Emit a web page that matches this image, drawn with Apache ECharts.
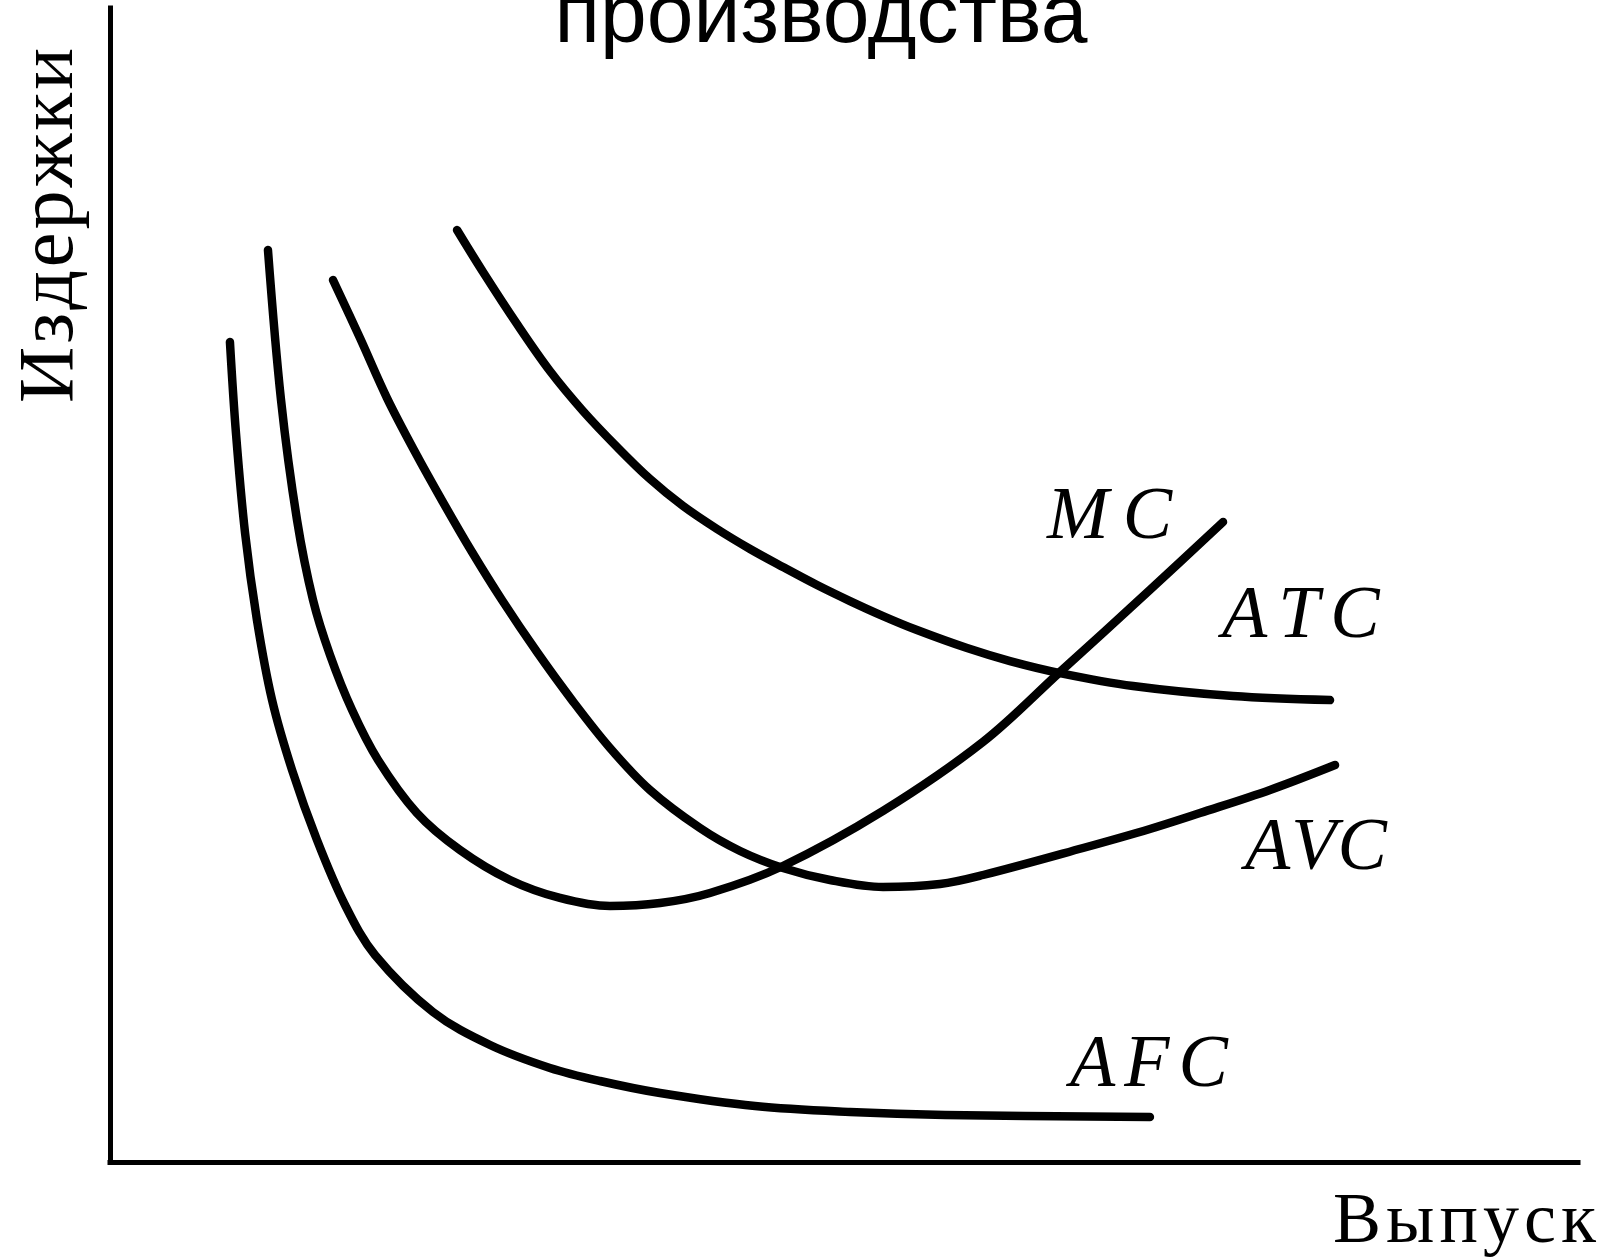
<!DOCTYPE html>
<html>
<head>
<meta charset="utf-8">
<script src="https://cdn.jsdelivr.net/npm/echarts@6/dist/echarts.min.js"></script>
<style>
html,body{margin:0;padding:0;background:#ffffff;}
#chart{width:1610px;height:1259px;}
</style>
</head>
<body>
<div id="chart"></div>
<script>
// ---- texts ----
const TITLE = 'производства';
const Y_NAME = 'Издержки';
const X_NAME = 'Выпуск';
const CURVE_NAMES = ['MC', 'ATC', 'AVC', 'AFC'];

// ---- curve values (output, cost) on 0..100 scales ----
const AFC = [
  [8.17, 71.06], [8.58, 63.17], [9.20, 54.51], [10.01, 46.97], [11.04, 40.03],
  [12.40, 33.97], [14.10, 27.90], [16.01, 22.27], [18.05, 17.94], [22.00, 13.00],
  [25.89, 10.14], [29.97, 8.15], [33.38, 7.02], [37.47, 5.98], [43.94, 4.85],
  [50.41, 4.33], [56.88, 4.07], [70.84, 3.90]
];
const MC = [
  [10.76, 79.03], [11.65, 66.03], [12.74, 55.63], [13.83, 48.70], [14.99, 43.93],
  [16.49, 39.17], [18.26, 34.84], [20.91, 30.24], [23.84, 27.04], [27.25, 24.44],
  [30.65, 22.88], [34.06, 22.18], [37.47, 22.44], [40.87, 23.31], [45.84, 25.65],
  [52.66, 30.42], [59.47, 36.40], [64.71, 42.46], [70.84, 49.57], [75.82, 55.46]
];
const AVC = [
  [15.19, 76.43], [17.03, 71.40], [18.87, 66.20], [20.78, 61.53], [22.68, 57.19],
  [24.66, 52.86], [26.70, 48.70], [29.09, 44.19], [31.47, 40.03], [34.06, 35.88],
  [36.78, 32.24], [40.19, 28.94], [42.92, 26.95], [45.84, 25.48], [49.05, 24.44],
  [52.66, 23.83], [56.54, 24.09], [59.47, 24.87], [66.28, 27.21], [70.84, 28.86],
  [74.25, 30.24], [79.02, 32.24], [83.45, 34.40]
];
const ATC = [
  [23.64, 80.76], [25.41, 77.12], [27.72, 72.62], [29.97, 68.54], [32.22, 65.08],
  [34.54, 61.96], [36.78, 59.19], [39.03, 56.85], [41.35, 54.85], [43.60, 53.12],
  [45.84, 51.56], [48.16, 50.00], [50.41, 48.61], [52.66, 47.31], [54.97, 46.10],
  [58.38, 44.54], [61.31, 43.41], [64.71, 42.37], [69.69, 41.25], [76.50, 40.38],
  [83.11, 40.03]
];

const SERIES_DATA = { MC: MC, ATC: ATC, AVC: AVC, AFC: AFC };

const SERIF = '"Liberation Serif", "Times New Roman", serif';
const SANS = 'Arial, "Liberation Sans", sans-serif';

function spaced(str, gap, font) {
  const rich = { s: Object.assign({ padding: [0, gap, 0, 0] }, font) };
  return { text: str.split('').map(function (ch) { return '{s|' + ch + '}'; }).join(''), rich: rich };
}

function spacedText(str, x, y, gap, font, align, rotation) {
  const sp = spaced(str, gap, font);
  return {
    type: 'text', x: x, y: y, rotation: rotation || 0, silent: true,
    style: Object.assign({ text: sp.text, rich: sp.rich, align: align, verticalAlign: 'middle' }, font)
  };
}

const LABEL_FONT = { fontFamily: SERIF, fontSize: 74, fontStyle: 'italic', fill: '#000' };
const AXIS_FONT_X = { fontFamily: SERIF, fontSize: 72, fill: '#000' };
const AXIS_FONT_Y = { fontFamily: SERIF, fontSize: 78, fill: '#000' };

const chart = echarts.init(document.getElementById('chart'), null, { renderer: 'canvas' });

const option = {
  backgroundColor: '#ffffff',
  animation: false,
  grid: { left: 110, right: 32, top: 8, bottom: 97, containLabel: false },
  xAxis: {
    type: 'value', min: 0, max: 100,
    axisLine: { show: true, onZero: false, lineStyle: { color: '#000', width: 5, cap: 'square' } },
    axisTick: { show: false }, axisLabel: { show: false }, splitLine: { show: false }
  },
  yAxis: {
    type: 'value', min: 0, max: 100,
    axisLine: { show: true, onZero: false, lineStyle: { color: '#000', width: 5, cap: 'square' } },
    axisTick: { show: false }, axisLabel: { show: false }, splitLine: { show: false }
  },
  series: CURVE_NAMES.map(function (name) {
    return {
      name: name,
      type: 'line',
      data: SERIES_DATA[name],
      showSymbol: false,
      symbol: 'none',
      smooth: 0.35,
      lineStyle: { color: '#000', width: 8.5, cap: 'round', join: 'round' },
      silent: true
    };
  }),
  graphic: [
    {
      type: 'text', x: 821, y: 19, silent: true,
      style: { text: TITLE, fontFamily: SANS, fontSize: 84, fill: '#000', align: 'center', verticalAlign: 'middle' }
    },
    spacedText(Y_NAME, 52, 224, 3, AXIS_FONT_Y, 'center', Math.PI / 2),
    spacedText(X_NAME, 1333, 1223, 5, AXIS_FONT_X, 'left'),
    spacedText(CURVE_NAMES[0], 1047, 519, 14, LABEL_FONT, 'left'),
    spacedText(CURVE_NAMES[1], 1222, 618, 11, LABEL_FONT, 'left'),
    spacedText(CURVE_NAMES[2], 1245, 850, 1, LABEL_FONT, 'left'),
    spacedText(CURVE_NAMES[3], 1070, 1067, 9, LABEL_FONT, 'left')
  ]
};

chart.setOption(option);
</script>
</body>
</html>
